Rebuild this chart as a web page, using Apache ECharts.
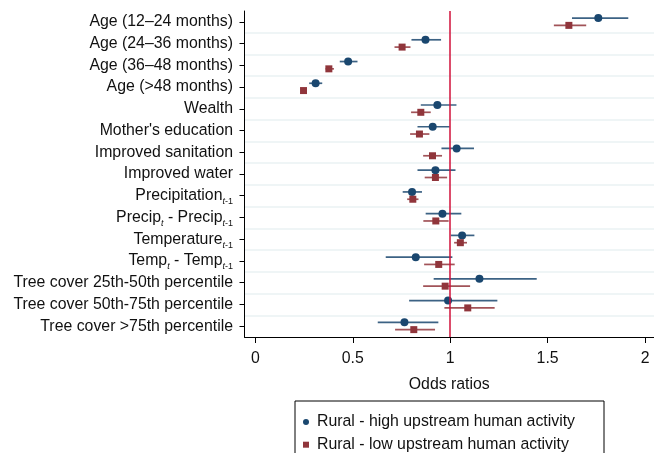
<!DOCTYPE html>
<html>
<head>
<meta charset="utf-8">
<script src="https://cdn.jsdelivr.net/npm/echarts@6/dist/echarts.min.js"></script>
<style>html,body{margin:0;padding:0;background:#fff}#c{width:654px;height:453px}</style>
</head>
<body>
<div id="c"></div>
<script>
const categories = [
  'Age (12–24 months)', 'Age (24–36 months)', 'Age (36–48 months)', 'Age (>48 months)',
  'Wealth', "Mother's education", 'Improved sanitation', 'Improved water',
  'Precipitation_{t-1}', 'Precip_{t} - Precip_{t-1}', 'Temperature_{t-1}', 'Temp_{t} - Temp_{t-1}',
  'Tree cover 25th-50th percentile', 'Tree cover 50th-75th percentile', 'Tree cover >75th percentile'
];
const highOR = [1.76, 0.873, 0.476, 0.309, 0.934, 0.91, 1.033, 0.924, 0.804, 0.96, 1.061, 0.823, 1.15, 0.989, 0.765];
const highLo = [1.625, 0.801, 0.433, 0.276, 0.849, 0.832, 0.955, 0.832, 0.756, 0.874, 1.003, 0.669, 0.915, 0.789, 0.628];
const highHi = [1.914, 0.953, 0.524, 0.343, 1.032, 0.997, 1.122, 1.027, 0.855, 1.057, 1.124, 1.011, 1.444, 1.242, 0.939];
const lowOR  = [1.609, 0.753, 0.377, 0.247, 0.849, 0.842, 0.909, 0.924, 0.808, 0.926, 1.052, 0.941, 0.974, 1.09, 0.813];
const lowLo  = [1.532, 0.714, 0.36, 0.238, 0.799, 0.794, 0.861, 0.869, 0.779, 0.862, 1.02, 0.866, 0.861, 0.97, 0.717];
const lowHi  = [1.698, 0.796, 0.403, 0.256, 0.9, 0.893, 0.958, 0.984, 0.837, 0.992, 1.086, 1.023, 1.102, 1.228, 0.922];
const xTickValues = [0, 0.5, 1, 1.5, 2];
const xTickLabels = ['0', '0.5', '1', '1.5', '2'];
const seriesNames = ['Rural - high upstream human activity', 'Rural - low upstream human activity'];
const axisName = 'Odds ratios';
const refValue = 1;

const FONT = "'Liberation Sans', Arial, Helvetica, sans-serif";
const FS = 15.85;
const BLUE = '#1a476f', RED = '#90353b';

function richLabel(s) {
  return s.replace(/_\{t-1\}/g, '{it|t}{sub|-1}').replace(/_\{t\}/g, '{it|t}');
}

function ciRender(offset, color) {
  return function (params, api) {
    const a = api.coord([api.value(0), api.value(2)]);
    const b = api.coord([api.value(1), api.value(2)]);
    return {
      type: 'line',
      shape: { x1: a[0], y1: a[1] + offset, x2: b[0], y2: b[1] + offset },
      style: { stroke: color, lineWidth: 1.7, opacity: 0.85 }
    };
  };
}

const OFF_H = -3.8, OFF_L = 3.5;
const chart = echarts.init(document.getElementById('c'), null, { renderer: 'canvas' });
chart.setOption({
  animation: false,
  backgroundColor: '#fff',
  textStyle: { fontFamily: FONT },
  grid: { left: 244.5, right: 0, top: 11, bottom: 116, containLabel: false },
  xAxis: {
    type: 'value', min: -0.056, max: 2.046,
    name: axisName, nameLocation: 'middle', nameGap: 40,
    nameTextStyle: { fontFamily: FONT, fontSize: FS, color: '#111' },
    axisLine: { show: true, onZero: false, lineStyle: { color: '#000', width: 1 } },
    axisTick: { show: true, length: 6, customValues: xTickValues, lineStyle: { color: '#000', width: 1 } },
    axisLabel: { customValues: xTickValues, margin: 14, fontFamily: FONT, fontSize: FS, color: '#111',
      formatter: function (v) { const i = xTickValues.indexOf(v); return i >= 0 ? xTickLabels[i] : ''; } },
    splitLine: { show: false }
  },
  yAxis: {
    type: 'category', data: categories, inverse: true,
    axisLine: { show: true, onZero: false, lineStyle: { color: '#000', width: 1 } },
    axisTick: { show: true, alignWithLabel: true, length: 5, lineStyle: { color: '#000', width: 1 } },
    axisLabel: {
      margin: 11.5, fontFamily: FONT, fontSize: FS, color: '#111', lineHeight: 20,
      showMinLabel: true, showMaxLabel: true, interval: 0, hideOverlap: false,
      formatter: richLabel,
      rich: {
        it: { fontFamily: FONT, fontSize: 9, fontStyle: 'italic', color: '#111', lineHeight: 9, padding: [12, 0, 0, 0] },
        sub: { fontFamily: FONT, fontSize: 9, color: '#111', lineHeight: 9, padding: [12, 0, 0, 0] }
      }
    },
    splitLine: { show: true, showMinLine: false, showMaxLine: false, lineStyle: { color: '#eaf2f3', width: 1.5 } }
  },
  legend: {
    orient: 'vertical', left: 295, top: 401, height: 120,
    data: [{ name: seriesNames[0], icon: 'circle' }, { name: seriesNames[1], icon: 'rect' }],
    itemWidth: 6, itemHeight: 6, itemGap: 4.7,
    padding: [12, 29, 20, 8],
    borderColor: '#000', borderWidth: 1, backgroundColor: '#fff',
    textStyle: { fontFamily: FONT, fontSize: FS, color: '#111', lineHeight: 18, padding: [0, 0, 0, 3] }
  },
  series: [
    { type: 'custom', name: 'ciHigh', z: 1, renderItem: ciRender(OFF_H, BLUE),
      encode: { x: [0, 1], y: 2 }, data: highLo.map((v, i) => [v, highHi[i], i]), silent: true },
    { type: 'custom', name: 'ciLow', z: 1, renderItem: ciRender(OFF_L, RED),
      encode: { x: [0, 1], y: 2 }, data: lowLo.map((v, i) => [v, lowHi[i], i]), silent: true },
    { type: 'line', name: 'ref', z: 2, data: [], silent: true,
      markLine: { silent: true, symbol: ['none', 'none'], label: { show: false },
        lineStyle: { color: '#d0103a', width: 1.5, type: 'solid' }, data: [{ xAxis: refValue }] } },
    { type: 'scatter', name: seriesNames[0], z: 3, symbol: 'circle', symbolSize: 8, symbolOffset: [0, OFF_H],
      itemStyle: { color: BLUE, opacity: 1 }, data: highOR.map((v, i) => [v, i]) },
    { type: 'scatter', name: seriesNames[1], z: 3, symbol: 'rect', symbolSize: 7, symbolOffset: [0, OFF_L],
      itemStyle: { color: RED, opacity: 1 }, data: lowOR.map((v, i) => [v, i]) }
  ]
});
</script>
</body>
</html>
